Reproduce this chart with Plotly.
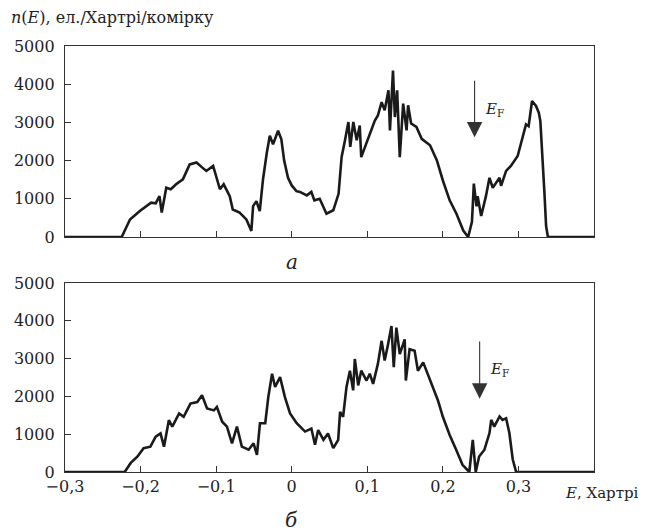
import plotly.graph_objects as go
from plotly.subplots import make_subplots

# Panel a: energy (Hartree) and DOS n(E)
E_a = [-0.30, -0.225, -0.214, -0.201, -0.186, -0.180, -0.175, -0.172, -0.166, -0.160,
       -0.153, -0.144, -0.135, -0.126, -0.119, -0.113, -0.104, -0.095, -0.090, -0.082,
       -0.078, -0.069, -0.060, -0.0534, -0.0511, -0.0467, -0.0423, -0.038, -0.033, -0.029,
       -0.0247, -0.018, -0.0137, -0.010, -0.0049, 0.000, 0.0062, 0.011, 0.020, 0.026,
       0.030, 0.037, 0.046, 0.055, 0.062, 0.066, 0.0705, 0.075, 0.0775, 0.0815,
       0.086, 0.090, 0.092, 0.097, 0.1035, 0.110, 0.114, 0.119, 0.123, 0.128,
       0.130, 0.134, 0.1365, 0.1395, 0.143, 0.1475, 0.152, 0.154, 0.158, 0.165,
       0.172, 0.183, 0.192, 0.200, 0.209, 0.218, 0.227, 0.2335, 0.2385, 0.241,
       0.2445, 0.246, 0.2507, 0.257, 0.2617, 0.266, 0.275, 0.277, 0.2837, 0.290,
       0.299, 0.3057, 0.310, 0.3135, 0.318, 0.3233, 0.327, 0.329, 0.332, 0.3344,
       0.3366, 0.339, 0.40]
n_a = [0, 0, 460, 680, 900, 880, 1070, 640, 1290, 1250,
       1380, 1510, 1900, 1950, 1830, 1730, 1860, 1250, 1380, 1070,
       720, 640, 460, 160, 810, 940, 680, 1510, 2200, 2650,
       2430, 2780, 2560, 2000, 1550, 1350, 1200, 1180, 1090, 1180,
       960, 1000, 610, 700, 1130, 2090, 2530, 3010, 2360, 3010,
       2530, 2920, 2090, 2360, 2660, 3050, 3180, 3530, 3320, 3840,
       2790, 4360, 3140, 3840, 2090, 3490, 2790, 3450, 2970, 2880,
       2570, 2400, 2010, 1480, 960, 610, 170, 0, 400, 1400,
       800, 1070, 550, 1070, 1550, 1290, 1550, 1340, 1730, 1860,
       2120, 2600, 2950, 2900, 3560, 3430, 3250, 3040, 2120, 1160,
       290, 0, 0]

# Panel б
E_b = [-0.30, -0.221, -0.213, -0.204, -0.196, -0.187, -0.180, -0.1736, -0.169, -0.1626,
       -0.158, -0.149, -0.143, -0.134, -0.125, -0.1187, -0.112, -0.103, -0.099, -0.092,
       -0.0857, -0.079, -0.0725, -0.066, -0.057, -0.0505, -0.046, -0.042, -0.035, -0.031,
       -0.026, -0.022, -0.0154, -0.009, -0.0022, 0.0066, 0.0176, 0.026, 0.0308, 0.035,
       0.042, 0.048, 0.055, 0.0615, 0.064, 0.068, 0.0725, 0.077, 0.0813, 0.0835,
       0.088, 0.092, 0.099, 0.1033, 0.1077, 0.114, 0.119, 0.123, 0.1275, 0.132,
       0.135, 0.1385, 0.143, 0.1495, 0.151, 0.156, 0.1626, 0.167, 0.174, 0.180,
       0.187, 0.1934, 0.200, 0.209, 0.2176, 0.226, 0.235, 0.2396, 0.2435, 0.248,
       0.255, 0.2617, 0.264, 0.268, 0.275, 0.279, 0.2837, 0.288, 0.2925, 0.297,
       0.40]
n_b = [0, 0, 240, 410, 630, 670, 935, 1020, 670, 1370,
       1200, 1550, 1460, 1810, 1850, 2030, 1680, 1630, 1720, 1330,
       1200, 760, 1200, 670, 590, 760, 450, 1290, 1290, 1980,
       2600, 2250, 2510, 1980, 1550, 1290, 1070, 1150, 720, 1110,
       850, 1020, 630, 850, 1590, 1460, 2250, 2680, 2160, 2990,
       2290, 2680, 2420, 2600, 2330, 2860, 3470, 2950, 3380, 3860,
       2770, 3820, 3120, 3510, 2420, 3250, 3210, 2680, 2900, 2600,
       2250, 1900, 1460, 980, 590, 190, 0, 850, 0, 410,
       590, 1030, 1380, 1200, 1470, 1380, 1420, 1030, 330, 0,
       0]

x_tickvals = [-0.3, -0.2, -0.1, 0.0, 0.1, 0.2, 0.3]
x_ticktext = ["\u22120,3", "\u22120,2", "\u22120,1", "0", "0,1", "0,2", "0,3"]
y_tickvals = [0, 1000, 2000, 3000, 4000, 5000]
y_ticktext = ["0", "1000", "2000", "3000", "4000", "5000"]

FONT = "DejaVu Serif"
FS = 16

fig = make_subplots(rows=2, cols=1, vertical_spacing=0.108)
fig.add_trace(go.Scatter(x=E_a, y=n_a, mode="lines",
                         line=dict(color="#1a1a1a", width=2.6), showlegend=False), row=1, col=1)
fig.add_trace(go.Scatter(x=E_b, y=n_b, mode="lines",
                         line=dict(color="#1a1a1a", width=2.6), showlegend=False), row=2, col=1)

for r in (1, 2):
    fig.update_xaxes(range=[-0.3, 0.4], tickvals=x_tickvals,
                     ticktext=x_ticktext if r == 2 else [""] * len(x_tickvals),
                     ticks="inside", ticklen=6, tickcolor="#333", tickwidth=1.2,
                     showline=True, linecolor="#333", linewidth=1.3, mirror=True,
                     showgrid=False, zeroline=False,
                     tickfont=dict(family=FONT, size=FS, color="#222"),
                     row=r, col=1)
    fig.update_yaxes(range=[0, 5000], tickvals=y_tickvals, ticktext=y_ticktext,
                     ticks="inside", ticklen=6, tickcolor="#333", tickwidth=1.2,
                     showline=True, linecolor="#333", linewidth=1.3, mirror=True,
                     showgrid=False, zeroline=False, ticklabelstandoff=6,
                     tickfont=dict(family=FONT, size=FS, color="#222"),
                     row=r, col=1)

fig.update_yaxes(domain=[0.5516, 1.0], row=1, col=1)
fig.update_yaxes(domain=[0.0, 0.4437], row=2, col=1)

ann_font = dict(family=FONT, size=FS, color="#222")
annotations = [
    dict(text="<i>n</i>(<i>E</i>), ел./Хартрі/комірку", xref="paper", yref="paper",
         x=-0.105, y=1.068, xanchor="left", yanchor="middle", showarrow=False, font=ann_font),
    dict(text="<i>а</i>", xref="x", yref="paper", x=0.0, y=0.493,
         xanchor="center", yanchor="middle", showarrow=False, font=dict(family=FONT, size=20, color="#222")),
    dict(text="<i>б</i>", xref="x2", yref="paper", x=0.0, y=-0.1127,
         xanchor="center", yanchor="middle", showarrow=False, font=dict(family=FONT, size=20, color="#222")),
    dict(text="<i>E</i>, Хартрі", xref="paper", yref="paper", x=1.088, y=-0.049,
         xanchor="right", yanchor="middle", showarrow=False, font=dict(family=FONT, size=15, color="#222")),
    # Fermi level arrows
    dict(x=0.242, y=2610, ax=0.242, ay=4130, xref="x", yref="y", axref="x", ayref="y",
         text="", showarrow=True, arrowhead=2, arrowsize=2.8, arrowwidth=1.1, arrowcolor="#333"),
    dict(x=0.2487, y=1940, ax=0.2487, ay=3490, xref="x2", yref="y2", axref="x2", ayref="y2",
         text="", showarrow=True, arrowhead=2, arrowsize=2.8, arrowwidth=1.1, arrowcolor="#333"),
    dict(text="<i>E</i><sub>F</sub>", xref="x", yref="y", x=0.2685, y=3340,
         xanchor="center", yanchor="middle", showarrow=False, font=dict(family=FONT, size=15, color="#222")),
    dict(text="<i>E</i><sub>F</sub>", xref="x2", yref="y2", x=0.275, y=2710,
         xanchor="center", yanchor="middle", showarrow=False, font=dict(family=FONT, size=15, color="#222")),
]
# page body has an 8px default margin, so the figure is sized to fit the window
fig.update_layout(width=642, height=524,
                  margin=dict(l=57, r=56, t=38, b=60, autoexpand=False),
                  plot_bgcolor="white", paper_bgcolor="white",
                  annotations=annotations, showlegend=False)

fig.write_html("out.html")
